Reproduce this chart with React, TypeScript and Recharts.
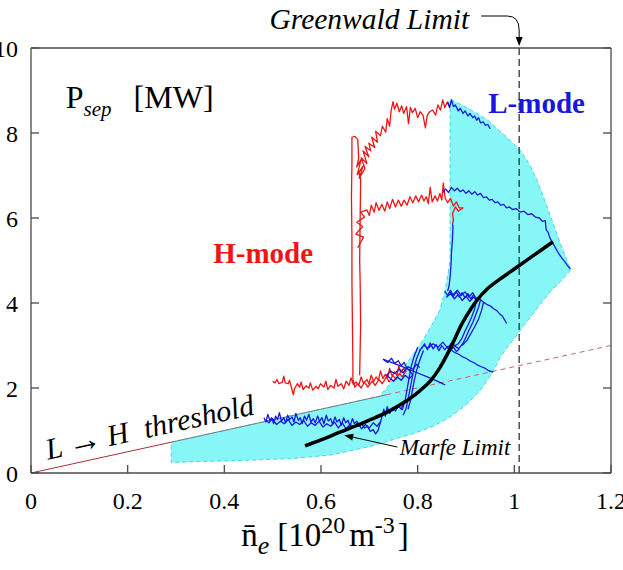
import { ComposedChart, Line, Scatter, XAxis, YAxis, ReferenceLine } from "recharts";

// n_e [1e20 m^-3] vs P_sep [MW]
const X_TICKS = [0, 0.2, 0.4, 0.6, 0.8, 1, 1.2];
const Y_TICKS = [0, 2, 4, 6, 8, 10];
const GREENWALD_LIMIT = 1.01;

// L-mode operating region (closed outline)
const L_MODE_REGION = [
  [0.29, 0.725], [0.72, 1.8], [0.737, 2.02], [0.758, 2.32], [0.778, 2.59], [0.795, 2.86],
  [0.811, 3.13], [0.83, 3.5], [0.846, 3.84], [0.857, 4.31], [0.863, 4.7], [0.867, 5.01],
  [0.867, 8.8], [0.905, 8.58], [0.944, 8.31], [0.98, 7.95], [1.012, 7.6], [1.032, 7.25],
  [1.047, 6.89], [1.065, 6.35], [1.08, 5.88], [1.098, 5.32], [1.117, 4.78], [1.095, 4.5],
  [1.074, 4.26], [1.052, 3.95], [1.032, 3.65], [1.015, 3.4], [1.001, 3.18], [0.985, 2.95],
  [0.97, 2.71], [0.956, 2.38], [0.93, 1.95], [0.898, 1.58], [0.865, 1.3], [0.832, 1.1],
  [0.795, 0.94], [0.759, 0.82], [0.73, 0.72], [0.7, 0.62], [0.66, 0.52], [0.619, 0.42],
  [0.54, 0.34], [0.45, 0.3], [0.29, 0.25],
];

// L->H threshold scaling
const THRESHOLD_LEFT = [[0, 0], [0.29, 0.725]];
const THRESHOLD_EDGE = [[0.29, 0.725], [0.735, 1.84]];
const THRESHOLD_EXTRAP = [[0.735, 1.84], [1.2, 3.0]];

// Marfe density limit
const MARFE_LIMIT = [
  [0.567, 0.64], [0.6, 0.78], [0.639, 0.96], [0.67, 1.1], [0.701, 1.25], [0.735, 1.42],
  [0.763, 1.6], [0.785, 1.76], [0.805, 1.94], [0.826, 2.16], [0.846, 2.48], [0.867, 2.92],
  [0.892, 3.52], [0.91, 3.86], [0.923, 4.07], [0.945, 4.34], [0.97, 4.56], [1.0, 4.8],
  [1.026, 5.01], [1.055, 5.24], [1.08, 5.44],
];
const MARFE_ARROW = [[0.758, 0.61], [0.648, 0.89]];

// H-mode discharge traces
const H_LOW = [
  [0.5, 2.16], [0.505, 2.12], [0.509, 2.2], [0.513, 2.1], [0.52, 2.14], [0.523, 2.28],
  [0.526, 2.12], [0.532, 2.1], [0.535, 2.18], [0.539, 2.0], [0.543, 1.84], [0.545, 1.98],
  [0.551, 2.1], [0.556, 2.02], [0.559, 2.14], [0.563, 1.96], [0.569, 2.05], [0.575, 2.0],
  [0.578, 2.12], [0.583, 1.95], [0.59, 2.04], [0.594, 1.98], [0.599, 2.1], [0.606, 2.02],
  [0.61, 2.16], [0.614, 1.96], [0.62, 2.06], [0.627, 2.0], [0.631, 2.2], [0.635, 2.04],
  [0.642, 2.1], [0.647, 1.98], [0.652, 2.16], [0.658, 2.06], [0.662, 2.24], [0.667, 2.08],
  [0.673, 2.14], [0.678, 2.06], [0.683, 2.26], [0.688, 2.12], [0.695, 2.2], [0.699, 2.1],
  [0.704, 2.3], [0.709, 2.16], [0.714, 2.26], [0.719, 2.18], [0.723, 2.4], [0.728, 2.22],
  [0.733, 2.32], [0.738, 2.24], [0.742, 2.46], [0.747, 2.28], [0.752, 2.38], [0.757, 2.3],
  [0.761, 2.52], [0.765, 2.36], [0.771, 2.46], [0.776, 2.4], [0.768, 2.26], [0.762, 2.34],
  [0.755, 2.2], [0.749, 2.3], [0.741, 2.14], [0.735, 2.26], [0.727, 2.1], [0.72, 2.2],
  [0.712, 2.06], [0.706, 2.16], [0.697, 2.02], [0.69, 2.14], [0.683, 2.0], [0.676, 2.1],
  [0.67, 2.02], [0.666, 2.2],
];
const H_UP = [
  [0.666, 2.2], [0.666, 2.6], [0.665, 3.5], [0.664, 4.5], [0.664, 5.5], [0.663, 6.5],
  [0.664, 7.3], [0.664, 7.9], [0.67, 7.92], [0.676, 7.85], [0.678, 7.4], [0.674, 7.2],
  [0.683, 7.38], [0.675, 7.02], [0.687, 7.22], [0.679, 6.94], [0.691, 7.16], [0.683, 7.42],
  [0.695, 7.28], [0.687, 7.58], [0.699, 7.44], [0.691, 7.68], [0.703, 7.58], [0.699, 7.76],
  [0.711, 7.66], [0.705, 7.9], [0.717, 7.78], [0.713, 8.04], [0.723, 7.94], [0.727, 8.16],
  [0.734, 8.02], [0.737, 8.34], [0.742, 8.16], [0.745, 8.52], [0.749, 8.74], [0.752, 8.56],
  [0.757, 8.7], [0.762, 8.5], [0.767, 8.64], [0.771, 8.46], [0.777, 8.62], [0.781, 8.22],
  [0.785, 8.6], [0.789, 8.48], [0.795, 8.58], [0.8, 8.36], [0.805, 8.5], [0.811, 8.42],
  [0.816, 8.12], [0.82, 8.42], [0.825, 8.5], [0.831, 8.54], [0.837, 8.42], [0.842, 8.66],
  [0.847, 8.54], [0.852, 8.78], [0.856, 8.6], [0.861, 8.72], [0.866, 8.62],
];
const H_RISE = [
  [0.68, 2.3], [0.682, 3.5], [0.681, 4.5], [0.68, 5.0], [0.681, 6.0], [0.682, 6.9], [0.678, 7.1],
];
const H_MID = [
  [0.676, 5.3], [0.688, 5.55], [0.672, 5.62], [0.686, 5.8], [0.674, 5.9], [0.69, 6.02],
  [0.682, 6.14], [0.695, 6.19], [0.7, 6.06], [0.704, 6.3], [0.71, 6.14], [0.714, 6.36],
  [0.72, 6.18], [0.726, 6.32], [0.732, 6.16], [0.737, 6.38], [0.742, 6.22], [0.748, 6.44],
  [0.754, 6.26], [0.76, 6.42], [0.766, 6.28], [0.772, 6.42], [0.778, 6.3], [0.784, 6.5],
  [0.79, 6.36], [0.796, 6.52], [0.802, 6.38], [0.808, 6.54], [0.813, 6.4], [0.818, 6.5],
  [0.822, 6.34], [0.826, 6.72], [0.83, 6.38], [0.836, 6.52], [0.841, 6.4], [0.846, 6.58],
  [0.85, 6.42], [0.853, 6.82], [0.857, 6.46], [0.862, 6.36], [0.868, 6.46], [0.874, 6.28],
  [0.88, 6.38], [0.886, 6.24], [0.894, 6.24], [0.884, 6.16], [0.878, 6.26], [0.872, 6.1],
  [0.874, 5.95], [0.872, 5.85],
];

// L-mode discharge traces
const L_TOP = [
  [0.862, 8.74], [0.866, 8.6], [0.87, 8.78], [0.874, 8.62], [0.878, 8.66], [0.884, 8.52],
  [0.888, 8.58], [0.894, 8.46], [0.898, 8.52], [0.904, 8.4], [0.908, 8.46], [0.914, 8.36],
  [0.918, 8.4], [0.922, 8.3], [0.926, 8.36], [0.93, 8.24], [0.936, 8.26], [0.94, 8.18],
  [0.945, 8.2], [0.95, 8.1],
];
const L_SECOND = [
  [0.852, 6.6], [0.858, 6.68], [0.864, 6.6], [0.87, 6.72], [0.876, 6.64], [0.882, 6.7],
  [0.888, 6.62], [0.894, 6.66], [0.9, 6.58], [0.906, 6.64], [0.912, 6.56], [0.918, 6.62],
  [0.924, 6.54], [0.93, 6.58], [0.936, 6.48], [0.942, 6.5], [0.948, 6.42], [0.954, 6.44],
  [0.96, 6.36], [0.966, 6.38], [0.972, 6.3], [0.978, 6.32], [0.984, 6.24], [0.99, 6.26],
  [0.996, 6.2], [1.004, 6.22], [1.012, 6.14], [1.02, 6.16], [1.028, 6.08], [1.036, 6.1],
  [1.044, 6.02], [1.052, 6.0], [1.058, 5.92], [1.064, 5.94], [1.066, 5.72], [1.07, 5.66],
  [1.074, 5.52], [1.08, 5.4], [1.086, 5.28], [1.092, 5.16], [1.098, 5.06], [1.104, 4.98],
  [1.11, 4.88], [1.116, 4.8],
];
const L_DROP = [
  [0.872, 5.85], [0.873, 5.8], [0.872, 5.5], [0.87, 5.2], [0.869, 4.9], [0.867, 4.6],
  [0.865, 4.4], [0.862, 4.28],
];
const L_FOUR = [
  [0.856, 4.28], [0.862, 4.18], [0.868, 4.3], [0.874, 4.16], [0.88, 4.26], [0.886, 4.14],
  [0.892, 4.24], [0.898, 4.12], [0.904, 4.22], [0.91, 4.1], [0.916, 4.2], [0.922, 4.08],
  [0.928, 4.16], [0.924, 4.04], [0.916, 4.14], [0.908, 4.04], [0.9, 4.16], [0.892, 4.06],
  [0.884, 4.2], [0.876, 4.1], [0.868, 4.22], [0.86, 4.14], [0.866, 4.26], [0.874, 4.2],
  [0.882, 4.3], [0.89, 4.18], [0.898, 4.26], [0.906, 4.14], [0.914, 4.24], [0.92, 4.12],
  [0.928, 4.1], [0.936, 4.02], [0.944, 3.96], [0.952, 3.92], [0.958, 3.86], [0.964, 3.82],
  [0.97, 3.74], [0.976, 3.68], [0.98, 3.6], [0.984, 3.52],
];
const L_FALL_A = [
  [0.93, 4.08], [0.926, 3.9], [0.92, 3.72], [0.914, 3.54], [0.906, 3.36], [0.9, 3.2],
  [0.894, 3.06], [0.886, 2.94],
];
const L_FALL_B = [
  [0.922, 4.06], [0.918, 3.86], [0.912, 3.68], [0.905, 3.5], [0.898, 3.34], [0.892, 3.18],
  [0.884, 3.04], [0.874, 2.98],
];
const L_FALL_C = [
  [0.936, 4.0], [0.932, 3.82], [0.926, 3.62], [0.918, 3.44], [0.91, 3.28], [0.902, 3.12],
  [0.892, 3.0],
];
const L_THREE = [
  [0.808, 2.92], [0.814, 3.04], [0.82, 2.9], [0.826, 3.06], [0.832, 2.92], [0.838, 3.02],
  [0.844, 2.88], [0.85, 3.0], [0.856, 2.9], [0.862, 2.98], [0.868, 2.88], [0.874, 2.96],
  [0.88, 2.86], [0.886, 2.92], [0.878, 2.98], [0.87, 3.06], [0.862, 2.94], [0.852, 3.08],
  [0.842, 2.96], [0.832, 3.04], [0.822, 2.94], [0.812, 3.0], [0.804, 2.88],
];
const L_THREE_TAIL = [
  [0.868, 2.9], [0.876, 2.84], [0.884, 2.8], [0.892, 2.74], [0.9, 2.7], [0.908, 2.64],
  [0.916, 2.6], [0.924, 2.54], [0.932, 2.5], [0.94, 2.46], [0.948, 2.4], [0.956, 2.38],
];
const L_RISE_A = [
  [0.806, 2.92], [0.798, 2.7], [0.792, 2.46], [0.788, 2.2], [0.784, 1.96], [0.78, 1.72],
  [0.776, 1.52], [0.77, 1.36],
];
const L_RISE_B = [
  [0.8, 2.96], [0.792, 2.72], [0.786, 2.48], [0.782, 2.22], [0.778, 1.96], [0.774, 1.7],
  [0.768, 1.48],
];
const L_RISE_C = [
  [0.812, 2.88], [0.804, 2.64], [0.798, 2.42], [0.793, 2.18], [0.789, 1.94], [0.785, 1.7],
  [0.78, 1.5],
];
const L_KNOT = [
  [0.73, 2.66], [0.738, 2.6], [0.746, 2.7], [0.752, 2.58], [0.76, 2.64], [0.766, 2.52],
  [0.772, 2.6], [0.778, 2.46], [0.784, 2.4], [0.79, 2.3], [0.782, 2.22], [0.774, 2.3],
  [0.766, 2.18], [0.758, 2.26], [0.75, 2.16], [0.742, 2.24], [0.736, 2.3], [0.744, 2.4],
  [0.752, 2.34], [0.762, 2.44], [0.77, 2.36], [0.78, 2.5], [0.79, 2.44], [0.798, 2.56],
  [0.804, 2.48],
];
const L_SLANT = [
  [0.728, 2.68], [0.76, 2.54], [0.79, 2.4], [0.82, 2.26], [0.845, 2.14], [0.857, 2.07],
];
const L_LOW = [
  [0.482, 1.3], [0.486, 1.2], [0.49, 1.38], [0.494, 1.24], [0.498, 1.3], [0.502, 1.16],
  [0.506, 1.34], [0.51, 1.26], [0.514, 1.42], [0.518, 1.22], [0.523, 1.3], [0.527, 1.18],
  [0.531, 1.36], [0.535, 1.26], [0.54, 1.32], [0.544, 1.2], [0.548, 1.4], [0.553, 1.24],
  [0.557, 1.3], [0.561, 1.16], [0.566, 1.34], [0.57, 1.24], [0.575, 1.38], [0.579, 1.2],
  [0.584, 1.28], [0.588, 1.18], [0.593, 1.34], [0.597, 1.22], [0.602, 1.3], [0.606, 1.16],
  [0.611, 1.36], [0.615, 1.22], [0.62, 1.28], [0.624, 1.14], [0.629, 1.32], [0.633, 1.2],
  [0.638, 1.26], [0.642, 1.12], [0.647, 1.3], [0.651, 1.18], [0.656, 1.24], [0.66, 1.1],
  [0.665, 1.28], [0.669, 1.16], [0.674, 1.22], [0.679, 1.1], [0.684, 1.16], [0.69, 1.06],
  [0.696, 1.1], [0.702, 0.98], [0.708, 1.02], [0.713, 0.92], [0.718, 1.0], [0.722, 1.16],
  [0.726, 1.32], [0.73, 1.5], [0.733, 1.34], [0.737, 1.56], [0.742, 1.4], [0.748, 1.54],
  [0.754, 1.46], [0.76, 1.58], [0.766, 1.5], [0.772, 1.7],
];
const L_LOW_BACK = [
  [0.724, 1.22], [0.716, 1.1], [0.708, 1.18], [0.7, 1.06], [0.692, 1.14], [0.684, 1.04],
  [0.676, 1.18], [0.668, 1.08], [0.66, 1.14], [0.652, 1.04], [0.644, 1.18], [0.636, 1.06],
  [0.628, 1.2], [0.62, 1.1], [0.612, 1.16], [0.604, 1.08], [0.596, 1.22], [0.588, 1.12],
  [0.58, 1.18], [0.572, 1.1], [0.564, 1.24], [0.556, 1.14], [0.548, 1.2], [0.54, 1.12],
  [0.532, 1.26], [0.524, 1.16], [0.516, 1.22], [0.508, 1.14], [0.5, 1.28], [0.492, 1.18],
  [0.486, 1.26],
];

const H_TRACES = [H_LOW, H_UP, H_RISE, H_MID];
const L_TRACES = [
  L_TOP, L_SECOND, L_DROP, L_FOUR, L_FALL_A, L_FALL_B, L_FALL_C, L_THREE, L_THREE_TAIL,
  L_RISE_A, L_RISE_B, L_RISE_C, L_KNOT, L_SLANT, L_LOW, L_LOW_BACK,
];

const SERIF = '"Liberation Serif", "Times New Roman", serif';
const RED = "#f01414";
const BLUE = "#1818dc";
const CYAN = "#86f6f6";
const FRAME = "#4a4a4a";

const toPts = (rows: number[][]) => rows.map(([x, y]) => ({ x, y }));
const at = (x: number, y: number) => [{ x, y }];
const noMark = () => <g />;

const regionOutline = (props: any) => {
  const p = props.points as { x: number; y: number }[];
  const d = p.map((q, i) => `${i ? "L" : "M"}${q.x},${q.y}`).join("") + "Z";
  return <path d={d} fill={CYAN} stroke="#4ad6de" strokeWidth={1} strokeDasharray="4 3" />;
};

const arrowLine = (props: any) => {
  const [a, b] = props.points as { x: number; y: number }[];
  const ang = Math.atan2(b.y - a.y, b.x - a.x);
  const c = Math.cos(ang), s = Math.sin(ang);
  const bx = b.x - 9 * c, by = b.y - 9 * s;
  return (
    <g>
      <line x1={a.x} y1={a.y} x2={bx} y2={by} stroke="#000" strokeWidth={1} />
      <path d={`M${b.x},${b.y}L${bx + 3.5 * s},${by - 3.5 * c}L${bx - 3.5 * s},${by + 3.5 * c}Z`} fill="#000" />
    </g>
  );
};

const xTitle = (props: any) => {
  const vb = props.viewBox;
  return (
    <text x={vb.x + vb.width / 2 + 4} y={vb.y + 73} textAnchor="middle" fontFamily={SERIF} fontSize={33} fill="#000">
      <tspan>{"n\u0304"}</tspan>
      <tspan fontStyle="italic" fontSize={26} dy={8}>e</tspan>
      <tspan dy={-8} dx={8}>[10</tspan>
      <tspan fontSize={24} dy={-13}>20</tspan>
      <tspan dy={13} dx={4}>m</tspan>
      <tspan fontSize={24} dy={-13}>-3</tspan>
      <tspan dy={13} dx={3}>]</tspan>
    </text>
  );
};

const tickStyle = { fill: "#000", fontSize: 24, fontFamily: SERIF };

export default function App() {
  return (
    <div style={{ position: "absolute", left: 0, top: 0, width: 623, height: 570, background: "#fff" }}>
      <ComposedChart width={623} height={570} margin={{ top: 0, right: 0, bottom: 0, left: 0 }}>
        <XAxis
          type="number" dataKey="x" domain={[0, 1.2]} ticks={X_TICKS} height={97}
          stroke={FRAME} strokeWidth={1.3} tickSize={-8} tickMargin={27} tick={tickStyle}
          interval={0} label={xTitle}
        />
        <XAxis
          xAxisId="top" orientation="top" type="number" domain={[0, 1.2]} ticks={X_TICKS}
          height={48} stroke={FRAME} strokeWidth={1.3} tickSize={-8} tick={noMark} allowDataOverflow
        />
        <YAxis
          type="number" dataKey="y" domain={[0, 10]} ticks={Y_TICKS} width={31}
          stroke={FRAME} strokeWidth={1.3} tickSize={-8} tickMargin={21} tick={tickStyle} interval={0}
        />
        <YAxis
          yAxisId="right" orientation="right" type="number" domain={[0, 10]} ticks={Y_TICKS}
          width={12} stroke={FRAME} strokeWidth={1.3} tickSize={-8} tick={noMark} allowDataOverflow
        />

        <Scatter data={toPts(L_MODE_REGION)} line={regionOutline} shape={noMark} isAnimationActive={false} zIndex={10} />

        <Line data={toPts(THRESHOLD_LEFT)} dataKey="y" stroke="#a83232" strokeWidth={1} dot={false} isAnimationActive={false} zIndex={20} />
        <Line data={toPts(THRESHOLD_EDGE)} dataKey="y" stroke="#7a7a7a" strokeWidth={1} dot={false} isAnimationActive={false} zIndex={20} />
        <Line data={toPts(THRESHOLD_EXTRAP)} dataKey="y" stroke="#c46a6a" strokeWidth={1} strokeDasharray="5 4" dot={false} isAnimationActive={false} zIndex={20} />

        {H_TRACES.map((t, i) => (
          <Line key={`h${i}`} data={toPts(t)} dataKey="y" type="linear" stroke={RED} strokeWidth={1.3} strokeLinejoin="round" dot={false} isAnimationActive={false} zIndex={30} />
        ))}
        {L_TRACES.map((t, i) => (
          <Line key={`l${i}`} data={toPts(t)} dataKey="y" type="linear" stroke={BLUE} strokeWidth={1.3} strokeLinejoin="round" dot={false} isAnimationActive={false} zIndex={31} />
        ))}

        <Line data={toPts(MARFE_LIMIT)} dataKey="y" type="monotone" stroke="#000" strokeWidth={3.5} dot={false} isAnimationActive={false} zIndex={40} />
        <Scatter data={toPts(MARFE_ARROW)} line={arrowLine} shape={noMark} isAnimationActive={false} zIndex={41} />

        <Scatter
          data={at(0.072, 8.59)} isAnimationActive={false} zIndex={60}
          shape={(p: any) => (
            <text x={p.cx} y={p.cy} fontFamily={SERIF} fontSize={32} fill="#000">
              P<tspan fontSize={21} fontStyle="italic" dy={8}>sep</tspan>
              <tspan dx={22} dy={-8}>[MW]</tspan>
            </text>
          )}
        />
        <Scatter
          data={at(0.377, 4.94)} isAnimationActive={false} zIndex={60}
          shape={(p: any) => (
            <text x={p.cx} y={p.cy} fontFamily={SERIF} fontSize={29} fontWeight="bold" fill={RED}>H-mode</text>
          )}
        />
        <Scatter
          data={at(0.946, 8.47)} isAnimationActive={false} zIndex={60}
          shape={(p: any) => (
            <text x={p.cx} y={p.cy} fontFamily={SERIF} fontSize={29} fontWeight="bold" fill={BLUE}>L-mode</text>
          )}
        />
        <Scatter
          data={at(0.035, 0.31)} isAnimationActive={false} zIndex={60}
          shape={(p: any) => (
            <text x={p.cx} y={p.cy} transform={`rotate(-12.4 ${p.cx} ${p.cy})`} fontFamily={SERIF} fontSize={30} fontStyle="italic" fill="#000">
              L<tspan dx={6} fontSize={34}>{"\u2192"}</tspan><tspan dx={6}>H</tspan><tspan dx={16}>threshold</tspan>
            </text>
          )}
        />
        <Scatter
          data={at(0.763, 0.42)} isAnimationActive={false} zIndex={60}
          shape={(p: any) => (
            <text x={p.cx} y={p.cy} fontFamily={SERIF} fontSize={23} fontStyle="italic" fill="#000">Marfe Limit</text>
          )}
        />
        <Scatter
          data={at(GREENWALD_LIMIT, 10)} isAnimationActive={false} zIndex={60}
          shape={(p: any) => (
            <g>
              <text x={p.cx - 50} y={p.cy - 19} textAnchor="end" fontFamily={SERIF} fontSize={29.5} fontStyle="italic" fill="#000">
                Greenwald Limit
              </text>
              <path d={`M${p.cx - 38},${p.cy - 32}L${p.cx - 12},${p.cy - 32}Q${p.cx},${p.cy - 32} ${p.cx},${p.cy - 18}L${p.cx},${p.cy - 10}`} fill="none" stroke="#000" strokeWidth={1} />
              <path d={`M${p.cx - 3.5},${p.cy - 11}L${p.cx + 3.5},${p.cy - 11}L${p.cx},${p.cy - 2}Z`} fill="#000" />
            </g>
          )}
        />

        <ReferenceLine x={GREENWALD_LIMIT} stroke="#222" strokeWidth={1.2} strokeDasharray="7 4" zIndex={70} />
      </ComposedChart>
    </div>
  );
}
